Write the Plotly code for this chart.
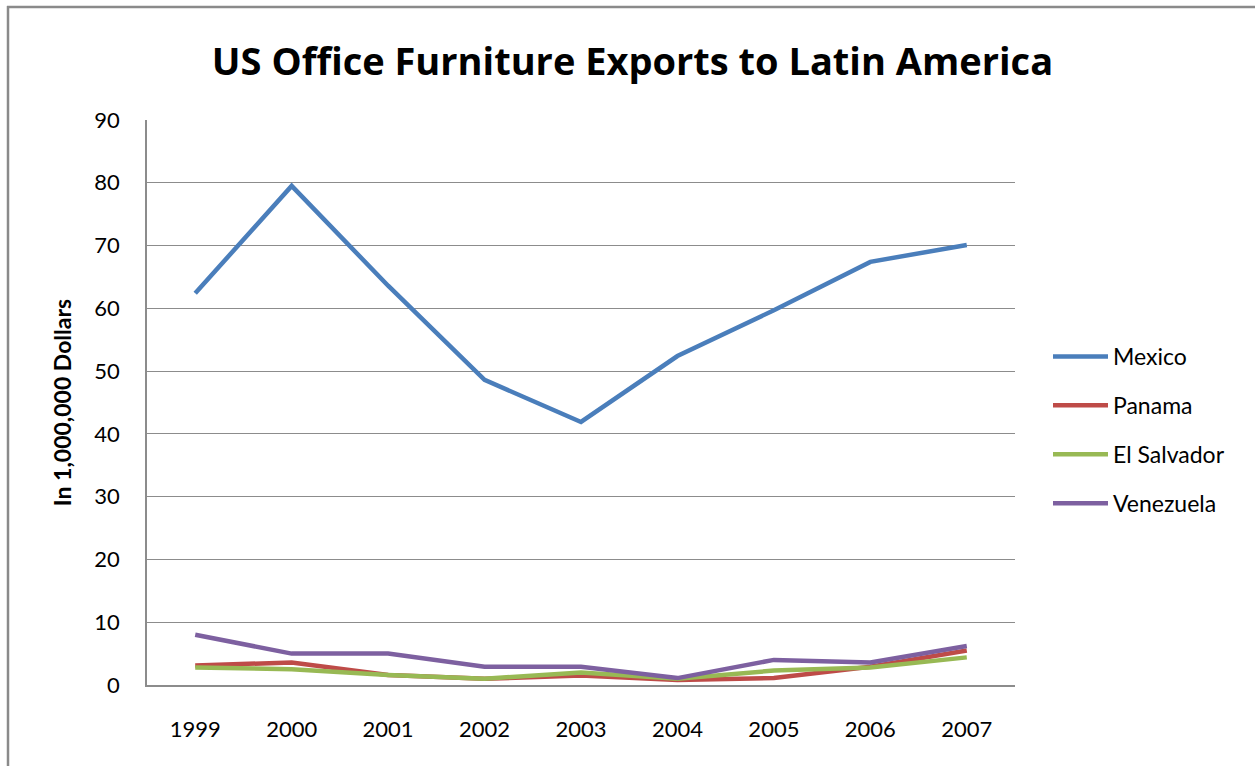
import plotly.graph_objects as go

# Export values, in millions of US dollars
years = ["1999", "2000", "2001", "2002", "2003", "2004", "2005", "2006", "2007"]
mexico = [62.4, 79.5, 63.6, 48.6, 41.9, 52.4, 59.7, 67.4, 70.1]
panama = [3.1, 3.6, 1.6, 1.0, 1.5, 0.8, 1.1, 2.9, 5.5]
el_salvador = [2.8, 2.5, 1.6, 1.0, 2.0, 1.0, 2.3, 2.8, 4.4]
venezuela = [8.0, 5.0, 5.0, 2.9, 2.9, 1.1, 4.0, 3.6, 6.2]
y_ticks = [0, 10, 20, 30, 40, 50, 60, 70, 80, 90]

series = [
    ("Mexico", mexico, "#4A7EBB"),
    ("Panama", panama, "#BE4B48"),
    ("El Salvador", el_salvador, "#98B954"),
    ("Venezuela", venezuela, "#7D60A0"),
]

FONT = "Lato"
GRID = "#8c8c8c"

fig = go.Figure()
for name, values, color in series:
    fig.add_trace(go.Scatter(
        x=years, y=values, name=name, mode="lines",
        line=dict(color=color, width=4.5),
        legendgroup=name,
    ))

W, H = 1255, 766
L, R, T, B = 147, 240, 120, 81
pw, ph = W - L - R, H - T - B


def px_x(p):
    return (p - L) / pw


def px_y(p):
    return (H - B - p) / ph


fig.update_layout(
    width=W, height=H,
    margin=dict(l=L, r=R, t=T, b=B),
    paper_bgcolor="white",
    plot_bgcolor="white",
    font=dict(family=FONT, color="#000000"),
    title=dict(
        text="<b>US Office Furniture Exports to Latin America</b>",
        font=dict(family="Open Sans", size=38, color="#000000"),
        x=(193 + 1072) / 2 / W, xanchor="center",
        y=1 - 62 / H, yanchor="middle",
    ),
    showlegend=True,
    legend=dict(
        x=px_x(1048), xanchor="left",
        y=px_y(430), yanchor="middle",
        font=dict(family=FONT, size=23, color="#000000"),
        traceorder="grouped",
        tracegroupgap=16,
        itemwidth=55,
        bgcolor="rgba(0,0,0,0)",
    ),
    xaxis=dict(
        type="category",
        range=[-0.5, len(years) - 0.5],
        showgrid=False,
        showline=True, linecolor=GRID, linewidth=1.5,
        ticks="", ticklabelstandoff=24,
        tickfont=dict(family=FONT, size=22, color="#000000"),
        mirror=False,
        fixedrange=True,
    ),
    yaxis=dict(
        range=[0, 90],
        tickvals=y_ticks,
        showgrid=True, gridcolor=GRID, gridwidth=1,
        showline=True, linecolor=GRID, linewidth=1.5,
        zeroline=False,
        ticks="", ticklabelstandoff=21,
        tickfont=dict(family=FONT, size=22, color="#000000"),
        title=dict(
            text="<b>In 1,000,000 Dollars</b>",
            font=dict(family=FONT, size=23, color="#000000"),
            standoff=16,
        ),
    ),
)

# Chart frame along the top and left edges
fig.add_shape(type="line", xref="paper", yref="paper",
              x0=px_x(7), x1=px_x(W + 5), y0=px_y(7), y1=px_y(7),
              line=dict(color="#8a8a8a", width=2.5))
fig.add_shape(type="line", xref="paper", yref="paper",
              x0=px_x(8), x1=px_x(8), y0=px_y(6), y1=px_y(H + 5),
              line=dict(color="#8a8a8a", width=2.5))

fig.write_html("out.html")
